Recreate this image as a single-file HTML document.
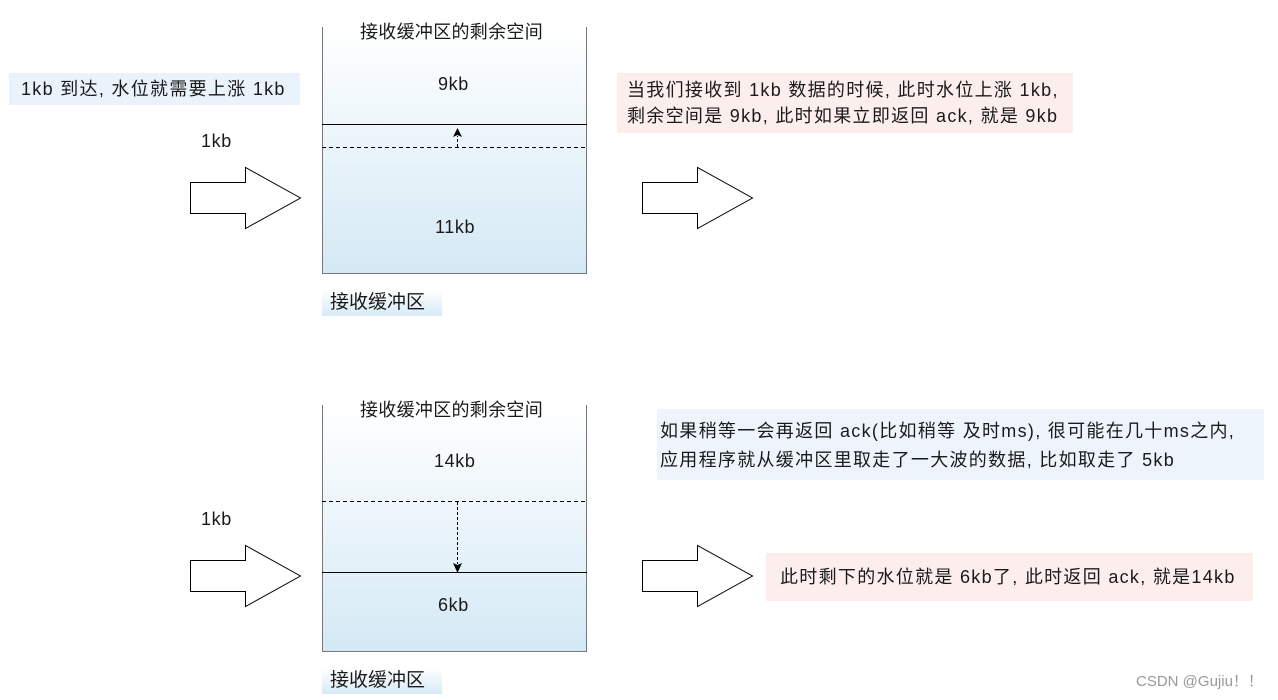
<!DOCTYPE html>
<html><head><meta charset="utf-8"><style>
body{margin:0;width:1278px;height:700px;background:#fff;position:relative;overflow:hidden;font-family:"Liberation Sans","Noto Sans CJK SC",sans-serif;color:#1a1a1a}
.t{position:absolute;font-size:18px;line-height:26px;white-space:nowrap;letter-spacing:1.3px}
.buf{position:absolute;left:322px;width:265px;height:247px;border:1px solid #777;border-top:none;box-sizing:border-box;background:linear-gradient(#fff,#d4e9f5)}
.lab{position:absolute;left:322px;width:120px;height:26px;background:linear-gradient(#fff,#d6eaf6);font-size:19px;line-height:26px;padding-left:8px;box-sizing:border-box}
</style></head><body>
<div class="t" style="left:9px;top:73px;width:291px;height:32px;background:#eaf3fb;line-height:32px;padding-left:12px;box-sizing:border-box">1kb 到达, 水位就需要上涨 1kb</div>
<div class="t" style="left:201px;top:128px;letter-spacing:0.6px">1kb</div>
<div class="t" style="left:201px;top:506px;letter-spacing:0.6px">1kb</div>

<div class="buf" style="top:27px"></div>
<div class="buf" style="top:405px"></div>
<div class="t" style="left:360px;top:19px;font-size:18px;letter-spacing:0.3px">接收缓冲区的剩余空间</div>
<div class="t" style="left:360px;top:397px;font-size:18px;letter-spacing:0.3px">接收缓冲区的剩余空间</div>
<div class="t" style="left:438px;top:71px;letter-spacing:0.6px">9kb</div>
<div class="t" style="left:435px;top:214px;letter-spacing:0.6px">11kb</div>
<div class="t" style="left:434px;top:448px;letter-spacing:0.6px">14kb</div>
<div class="t" style="left:438px;top:592px;letter-spacing:0.6px">6kb</div>
<div class="lab" style="top:290px">接收缓冲区</div>
<div class="lab" style="top:668px">接收缓冲区</div>

<svg width="1278" height="700" style="position:absolute;left:0;top:0">
<g fill="#fff" stroke="#000" stroke-width="1">
<path d="M190.5 182.5H245.5V167.5L300.5 198L245.5 228.5V213.5H190.5Z"/>
<path d="M642.5 182.5H697.5V167.5L752.5 198L697.5 228.5V213.5H642.5Z"/>
<path d="M190.5 560.5H245.5V545.5L300.5 576L245.5 606.5V591.5H190.5Z"/>
<path d="M642.5 560.5H697.5V545.5L752.5 576L697.5 606.5V591.5H642.5Z"/>
</g>
<line x1="322" y1="124.5" x2="587" y2="124.5" stroke="#000"/>
<line x1="322" y1="147.5" x2="587" y2="147.5" stroke="#000" stroke-dasharray="4 3"/>
<line x1="457.5" y1="147" x2="457.5" y2="136" stroke="#000" stroke-dasharray="3 2"/>
<path d="M457.5 128L453 137L457.5 135L462 137Z" fill="#000"/>
<line x1="322" y1="501.5" x2="587" y2="501.5" stroke="#000" stroke-dasharray="4 3"/>
<line x1="457.5" y1="502" x2="457.5" y2="564" stroke="#000" stroke-dasharray="3 2"/>
<line x1="322" y1="572.5" x2="587" y2="572.5" stroke="#000"/>
<path d="M457.5 573L453 563L457.5 565L462 563Z" fill="#000"/>
</svg>

<div class="t" style="left:617px;top:73px;width:456px;height:60px;background:#fdeeee;padding:4px 0 0 10px;box-sizing:border-box;line-height:26px">当我们接收到 1kb 数据的时候, 此时水位上涨 1kb,<br>剩余空间是 9kb, 此时如果立即返回 ack, 就是 9kb</div>
<div class="t" style="left:657px;top:409px;width:607px;height:71px;background:#eef4fc;padding:8px 0 0 3px;box-sizing:border-box;line-height:29px">如果稍等一会再返回 ack(比如稍等 及时ms), 很可能在几十ms之内,<br>应用程序就从缓冲区里取走了一大波的数据, 比如取走了 5kb</div>
<div class="t" style="left:766px;top:553px;width:487px;height:48px;background:#fdeeee;line-height:48px;padding-left:14px;box-sizing:border-box">此时剩下的水位就是 6kb了, 此时返回 ack, 就是14kb</div>
<div class="t" style="left:1136px;top:669px;font-size:15px;color:#999;letter-spacing:0">CSDN @Gujiu！！</div>
</body></html>
